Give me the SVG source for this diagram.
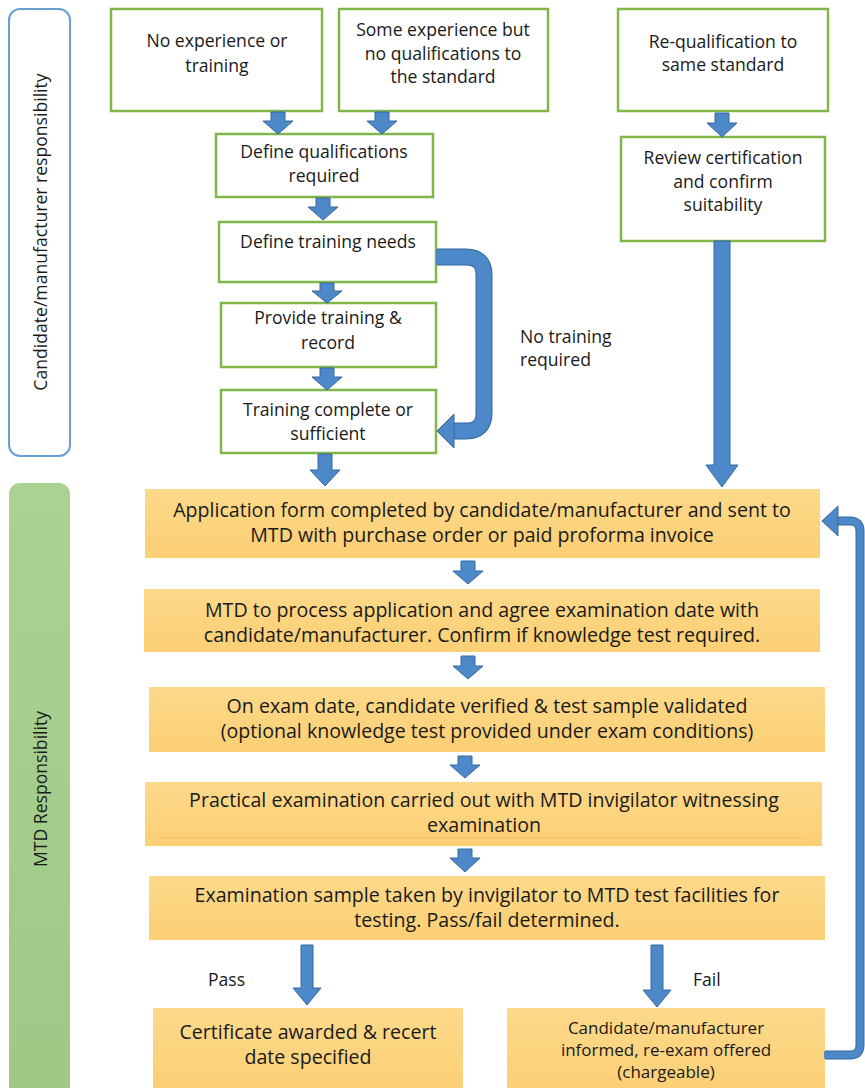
<svg xmlns="http://www.w3.org/2000/svg" width="865" height="1088" viewBox="0 0 865 1088">
<defs>
<linearGradient id="og" x1="0" y1="0" x2="0" y2="1">
<stop offset="0" stop-color="#fdd98a"/>
<stop offset="1" stop-color="#fbcf74"/>
</linearGradient>
<linearGradient id="gg" x1="0" y1="0" x2="0" y2="1">
<stop offset="0" stop-color="#acd293"/>
<stop offset="1" stop-color="#9dc985"/>
</linearGradient>
<style>
text{font-family:"Open Sans","Liberation Sans",sans-serif;fill:#1a1a1a;}
.t{font-size:17.6px;text-anchor:middle;}
.side{font-size:17.6px;text-anchor:middle;}
.o{font-size:19.6px;text-anchor:middle;}
.f{font-size:17px;text-anchor:middle;}
.lab{font-size:17.6px;}
.gb{fill:#ffffff;stroke:#80b64a;stroke-width:2.5;}
.ob{fill:url(#og);}
.ar{fill:#4d88c9;stroke:#36689f;stroke-width:1;}
.sh1{fill:none;stroke:#36689f;}
.sh2{fill:none;stroke:#4d88c9;}
</style>
</defs>
<rect width="865" height="1088" fill="#ffffff"/>

<g id="lane-candidate">
<rect x="9" y="9" width="61" height="447" rx="11" fill="#ffffff" stroke="#6a9fd4" stroke-width="2"/>
<text class="side" x="47" y="232" transform="rotate(-90 47 232)">Candidate/manufacturer responsibility</text>
</g>
<g id="lane-mtd">
<rect x="9" y="483" width="61" height="620" rx="11" fill="url(#gg)"/>
<text class="side" x="47" y="789" transform="rotate(-90 47 789)">MTD Responsibility</text>
</g>

<g id="n-noexp"><rect class="gb" x="111" y="9" width="211" height="102"/>
<text class="t" x="217" y="47">No experience or</text><text class="t" x="217" y="72">training</text></g>
<g id="n-someexp"><rect class="gb" x="339" y="9" width="209" height="102"/>
<text class="t" x="443" y="36">Some experience but</text><text class="t" x="443" y="60">no qualifications to</text><text class="t" x="443" y="83">the standard</text></g>
<g id="n-requal"><rect class="gb" x="618" y="9" width="210" height="102"/>
<text class="t" x="723" y="48">Re-qualification to</text><text class="t" x="723" y="71">same standard</text></g>
<g id="n-defqual"><rect class="gb" x="216" y="134" width="217" height="63"/>
<text class="t" x="324" y="158">Define qualifications</text><text class="t" x="324" y="182">required</text></g>
<g id="n-deftrain"><rect class="gb" x="219" y="222" width="217" height="60"/>
<text class="t" x="328" y="248">Define training needs</text></g>
<g id="n-provide"><rect class="gb" x="221" y="303" width="215" height="64"/>
<text class="t" x="328" y="324">Provide training &amp;</text><text class="t" x="328" y="349">record</text></g>
<g id="n-complete"><rect class="gb" x="221" y="390" width="215" height="63"/>
<text class="t" x="328" y="416">Training complete or</text><text class="t" x="328" y="440">sufficient</text></g>
<g id="n-review"><rect class="gb" x="621" y="137" width="204" height="104"/>
<text class="t" x="723" y="164">Review certification</text><text class="t" x="723" y="188">and confirm</text><text class="t" x="723" y="211">suitability</text></g>

<g id="n-application"><rect class="ob" x="145" y="489" width="675" height="69"/>
<text class="o" x="482" y="517">Application form completed by candidate/manufacturer and sent to</text>
<text class="o" x="482" y="542">MTD with purchase order or paid proforma invoice</text></g>
<g id="n-process"><rect class="ob" x="144" y="589" width="676" height="63"/>
<text class="o" x="482" y="617">MTD to process application and agree examination date with</text>
<text class="o" x="482" y="642">candidate/manufacturer. Confirm if knowledge test required.</text></g>
<g id="n-examdate"><rect class="ob" x="149" y="687" width="676" height="65"/>
<text class="o" x="487" y="713">On exam date, candidate verified &amp; test sample validated</text>
<text class="o" x="487" y="738">(optional knowledge test provided under exam conditions)</text></g>
<g id="n-practical"><rect class="ob" x="145" y="782" width="677" height="64"/>
<line x1="160" y1="838" x2="805" y2="838" stroke="#e9b95c" stroke-width="1" opacity="0.6"/>
<text class="o" x="484" y="807">Practical examination carried out with MTD invigilator witnessing</text>
<text class="o" x="484" y="832">examination</text></g>
<g id="n-sample"><rect class="ob" x="149" y="876" width="676" height="64"/>
<text class="o" x="487" y="902">Examination sample taken by invigilator to MTD test facilities for</text>
<text class="o" x="487" y="927">testing. Pass/fail determined.</text></g>
<g id="n-cert"><rect class="ob" x="153" y="1008" width="310" height="90"/>
<text class="o" x="308" y="1039">Certificate awarded &amp; recert</text>
<text class="o" x="308" y="1064">date specified</text></g>
<g id="n-fail"><rect class="ob" x="507" y="1008" width="318" height="90"/>
<text class="f" x="666" y="1034">Candidate/manufacturer</text>
<text class="f" x="666" y="1056">informed, re-exam offered</text>
<text class="f" x="666" y="1078">(chargeable)</text></g>

<g id="connectors">
<path class="ar" d="M271,112 H285 V121 H293 L278,134 L263,121 H271 Z"/>
<path class="ar" d="M375,112 H389 V121 H397 L382,134 L367,121 H375 Z"/>
<path class="ar" d="M316,198 H330 V207 H338 L323,220 L308,207 H316 Z"/>
<path class="ar" d="M320,283 H334 V291 H342 L327,303 L312,291 H320 Z"/>
<path class="ar" d="M320,368 H334 V377 H342 L327,390 L312,377 H320 Z"/>
<path class="ar" d="M318,454 H332 V470 H340 L325,486 L310,470 H318 Z"/>
<path class="ar" d="M715,113 H729 V123 H737 L722,137 L707,123 H715 Z"/>
<path class="ar" d="M714,241 H730 V465 H738 L722,487 L706,465 H714 Z"/>
<path class="ar" d="M461,561 H475 V571 H483 L468,584 L453,571 H461 Z"/>
<path class="ar" d="M461,656 H475 V666 H483 L468,679 L453,666 H461 Z"/>
<path class="ar" d="M458,756 H472 V765 H480 L465,778 L450,765 H458 Z"/>
<path class="ar" d="M458,849 H472 V858 H480 L465,872 L450,858 H458 Z"/>
<path class="ar" d="M301,945 H313 V988 H321 L307,1005 L293,988 H301 Z"/>
<path class="ar" d="M651,945 H663 V990 H671 L657,1007 L643,990 H651 Z"/>
<path class="sh1" stroke-width="17" d="M437,257 H466 Q484,257 484,275 V413 Q484,431 466,431 H451"/>
<path class="sh2" stroke-width="15" d="M436,257 H466 Q484,257 484,275 V413 Q484,431 466,431 H451"/>
<path class="ar" d="M454,414 L437,431 L454,448 Z"/>
<path class="sh1" stroke-width="9" d="M825,1055 H850 Q860,1055 860,1045 V531 Q860,521 850,521 H836"/>
<path class="sh2" stroke-width="7" d="M824,1055 H850 Q860,1055 860,1045 V531 Q860,521 850,521 H836"/>
<path class="ar" d="M838,506 L822,521 L838,536 Z"/>
</g>

<g id="labels">
<text class="lab" x="520" y="343">No training</text>
<text class="lab" x="520" y="366">required</text>
<text class="lab" x="208" y="986">Pass</text>
<text class="lab" x="693" y="986">Fail</text>
</g>
</svg>
